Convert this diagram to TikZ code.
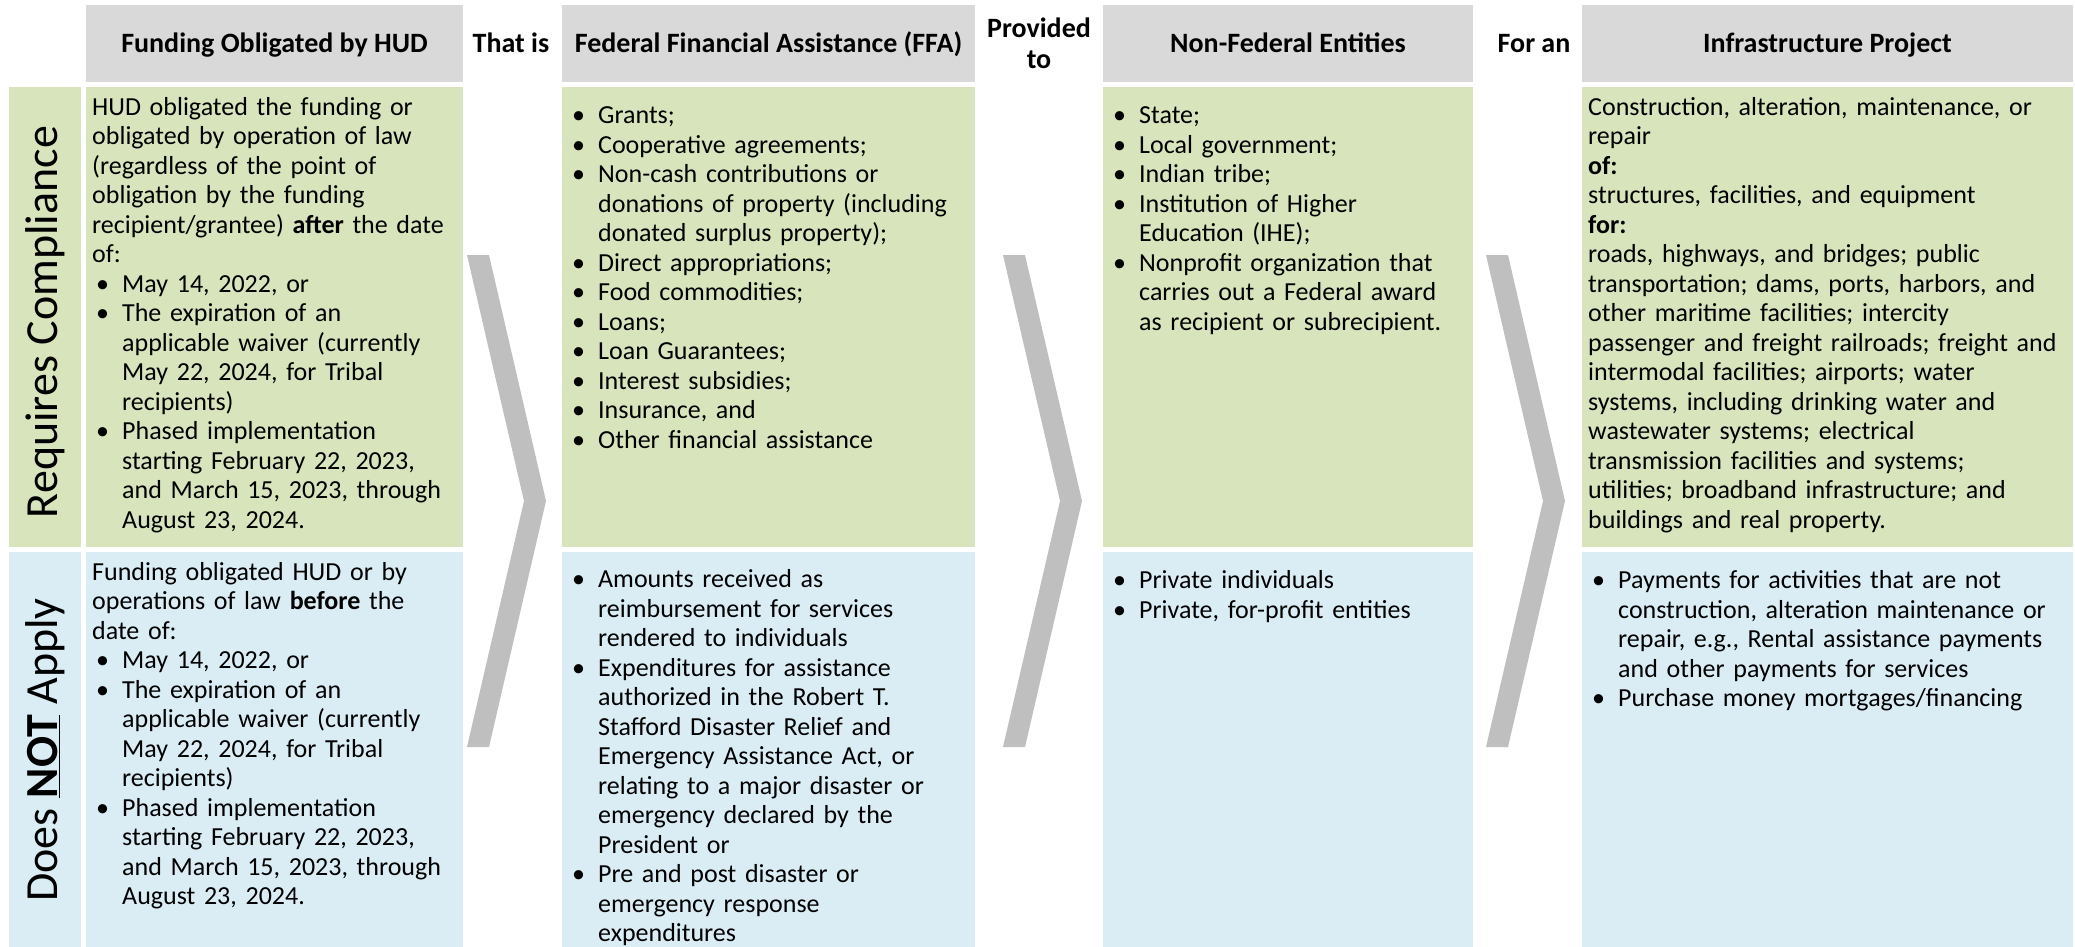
\documentclass[tikz,border=0pt]{standalone}
\usepackage{fontspec}
\setmainfont{Carlito}
\definecolor{hdrgray}{HTML}{D9D9D9}
\definecolor{okgreen}{HTML}{D8E4BC}
\definecolor{noblue}{HTML}{DAEDF5}
\definecolor{chevgray}{HTML}{BFBFBF}
\newcommand{\fs}{\rule{0pt}{21pt}}
\newcommand{\bi}[1]{\par\noindent\hangindent=30pt\hangafter=1\makebox[30pt][l]{\hspace{4pt}\textbullet}\fs#1\par}
\tikzset{
  cell/.style={draw=none, inner sep=0pt, outer sep=0pt, anchor=north west},
  txt/.style={anchor=north west, inner sep=0pt, align=left, font=\fontsize{26}{29.5}\selectfont},
  hdrtxt/.style={anchor=base, inner sep=0pt, font=\fontsize{28}{29.7}\selectfont\bfseries},
  sidetxt/.style={inner sep=0pt, rotate=90, font=\fontsize{46}{50}\selectfont},
  chev/.style={fill=chevgray, draw=none},
}
\begin{document}
\begin{tikzpicture}[x=1pt,y=-1pt]
\useasboundingbox (0,0) rectangle (2075,947);
% header cells
\node[cell, fill=hdrgray, minimum width=377pt, minimum height=77pt] (h1) at (86,5) {};
\node[cell, fill=hdrgray, minimum width=413pt, minimum height=77pt] (h2) at (562,5) {};
\node[cell, fill=hdrgray, minimum width=370pt, minimum height=77pt] (h3) at (1103,5) {};
\node[cell, fill=hdrgray, minimum width=491pt, minimum height=77pt] (h4) at (1582,5) {};
% green row
\node[cell, fill=okgreen, minimum width=72pt, minimum height=460pt] (g0) at (9,87) {};
\node[cell, fill=okgreen, minimum width=377pt, minimum height=460pt] (g1) at (86,87) {};
\node[cell, fill=okgreen, minimum width=413pt, minimum height=460pt] (g2) at (562,87) {};
\node[cell, fill=okgreen, minimum width=370pt, minimum height=460pt] (g3) at (1103,87) {};
\node[cell, fill=okgreen, minimum width=491pt, minimum height=460pt] (g4) at (1582,87) {};
% blue row
\node[cell, fill=noblue, minimum width=72pt, minimum height=395pt] (b0) at (9,552) {};
\node[cell, fill=noblue, minimum width=377pt, minimum height=395pt] (b1) at (86,552) {};
\node[cell, fill=noblue, minimum width=413pt, minimum height=395pt] (b2) at (562,552) {};
\node[cell, fill=noblue, minimum width=370pt, minimum height=395pt] (b3) at (1103,552) {};
\node[cell, fill=noblue, minimum width=491pt, minimum height=395pt] (b4) at (1582,552) {};
% chevrons
\fill[chev] (467,255) -- (489,255) -- (546,501) -- (489,747) -- (467,747) -- (524,501) -- cycle;
\fill[chev] (1003,255) -- (1025,255) -- (1082,501) -- (1025,747) -- (1003,747) -- (1060,501) -- cycle;
\fill[chev] (1486,255) -- (1508,255) -- (1565,501) -- (1508,747) -- (1486,747) -- (1543,501) -- cycle;
% header texts
\node[hdrtxt] (ht1) at (274.5,53) {Funding Obligated by HUD};
\node[hdrtxt] (ht2) at (768.5,53) {Federal Financial Assistance (FFA)};
\node[hdrtxt] (ht3) at (1288,53) {Non-Federal Entities};
\node[hdrtxt] (ht4) at (1827.5,53) {Infrastructure Project};
\node[hdrtxt] (c1) at (511,53) {That is};
\node[hdrtxt, anchor=center, align=center, font=\fontsize{28}{31.3}\selectfont\bfseries] (c2) at (1039,43) {Provided\\to};
\node[hdrtxt] (c3) at (1534,53) {For an};
% side labels
\node[sidetxt] (s1) at (45,322) {Requires Compliance};
\node[sidetxt] (s2) at (45,750) {Does \underline{\textbf{NOT}} Apply};
% green texts
\node[txt, text width=440pt] (tg1) at ([xshift=6pt,yshift=-7pt]g1.north west) {\fs HUD obligated the funding or\newline
obligated by operation of law\newline
(regardless of the point of\newline
obligation by the funding\newline
recipient/grantee) \textbf{after} the date\newline
of:
\bi{May 14, 2022, or}
\bi{The expiration of an\newline applicable waiver (currently\newline May 22, 2024, for Tribal\newline recipients)}
\bi{Phased implementation\newline starting February 22, 2023,\newline and March 15, 2023, through\newline August 23, 2024.}};
\node[txt, text width=470pt] (tg2) at ([xshift=6pt,yshift=-7pt]g2.north west) {%
\bi{Grants;}
\bi{Cooperative agreements;}
\bi{Non-cash contributions or\newline donations of property (including\newline donated surplus property);}
\bi{Direct appropriations;}
\bi{Food commodities;}
\bi{Loans;}
\bi{Loan Guarantees;}
\bi{Interest subsidies;}
\bi{Insurance, and}
\bi{Other financial assistance}};
\node[txt, text width=440pt] (tg3) at ([xshift=6pt,yshift=-7pt]g3.north west) {%
\bi{State;}
\bi{Local government;}
\bi{Indian tribe;}
\bi{Institution of Higher\newline Education (IHE);}
\bi{Nonprofit organization that\newline carries out a Federal award\newline as recipient or subrecipient.}};
\node[txt, text width=560pt] (tg4) at ([xshift=6pt,yshift=-7pt]g4.north west) {\fs Construction, alteration, maintenance, or\newline
repair\newline
\textbf{of:}\newline
structures, facilities, and equipment\newline
\textbf{for:}\newline
roads, highways, and bridges; public\newline
transportation; dams, ports, harbors, and\newline
other maritime facilities; intercity\newline
passenger and freight railroads; freight and\newline
intermodal facilities; airports; water\newline
systems, including drinking water and\newline
wastewater systems; electrical\newline
transmission facilities and systems;\newline
utilities; broadband infrastructure; and\newline
buildings and real property.};
% blue texts
\node[txt, text width=440pt] (tb1) at ([xshift=6pt,yshift=-7pt]b1.north west) {\fs Funding obligated HUD or by\newline
operations of law \textbf{before} the\newline
date of:
\bi{May 14, 2022, or}
\bi{The expiration of an\newline applicable waiver (currently\newline May 22, 2024, for Tribal\newline recipients)}
\bi{Phased implementation\newline starting February 22, 2023,\newline and March 15, 2023, through\newline August 23, 2024.}};
\node[txt, text width=470pt] (tb2) at ([xshift=6pt,yshift=-6pt]b2.north west) {%
\bi{Amounts received as\newline reimbursement for services\newline rendered to individuals}
\bi{Expenditures for assistance\newline authorized in the Robert T.\newline Stafford Disaster Relief and\newline Emergency Assistance Act, or\newline relating to a major disaster or\newline emergency declared by the\newline President or}
\bi{Pre and post disaster or\newline emergency response\newline expenditures}};
\node[txt, text width=440pt] (tb3) at ([xshift=6pt,yshift=-7pt]b3.north west) {%
\bi{Private individuals}
\bi{Private, for-profit entities}};
\node[txt, text width=560pt] (tb4) at ([xshift=6pt,yshift=-7pt]b4.north west) {%
\bi{Payments for activities that are not\newline construction, alteration maintenance or\newline repair, e.g., Rental assistance payments\newline and other payments for services}
\bi{Purchase money mortgages/financing}};
\end{tikzpicture}
\end{document}
